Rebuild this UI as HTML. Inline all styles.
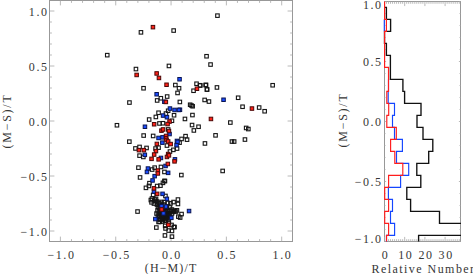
<!DOCTYPE html>
<html><head><meta charset="utf-8"><title>plot</title>
<style>
html,body{margin:0;padding:0;background:#fff;}
body{width:473px;height:274px;position:relative;overflow:hidden;font-family:"Liberation Serif",serif;}
.t{position:absolute;font-family:"Liberation Serif",serif;font-size:12px;line-height:1;color:#363636;white-space:nowrap;}
.r{transform-origin:50% 50%;}
</style></head><body>
<svg width="473" height="274" viewBox="0 0 473 274" style="position:absolute;left:0;top:0">
<rect width="473" height="274" fill="#fff"/>
<rect x="49.5" y="0.5" width="243.0" height="241.0" fill="none" stroke="#989898" stroke-width="1"/>
<path d="M60.40 241.5v-4.9M60.40 0.5v4.9M49.5 231.00h4.9M292.5 231.00h-4.9M71.47 241.5v-2.4M71.47 0.5v2.4M49.5 220.00h2.4M292.5 220.00h-2.4M82.53 241.5v-2.4M82.53 0.5v2.4M49.5 209.00h2.4M292.5 209.00h-2.4M93.60 241.5v-2.4M93.60 0.5v2.4M49.5 198.00h2.4M292.5 198.00h-2.4M104.66 241.5v-2.4M104.66 0.5v2.4M49.5 187.00h2.4M292.5 187.00h-2.4M115.73 241.5v-4.9M115.73 0.5v4.9M49.5 176.00h4.9M292.5 176.00h-4.9M126.79 241.5v-2.4M126.79 0.5v2.4M49.5 165.00h2.4M292.5 165.00h-2.4M137.86 241.5v-2.4M137.86 0.5v2.4M49.5 154.00h2.4M292.5 154.00h-2.4M148.92 241.5v-2.4M148.92 0.5v2.4M49.5 143.00h2.4M292.5 143.00h-2.4M159.99 241.5v-2.4M159.99 0.5v2.4M49.5 132.00h2.4M292.5 132.00h-2.4M171.05 241.5v-4.9M171.05 0.5v4.9M49.5 121.00h4.9M292.5 121.00h-4.9M182.12 241.5v-2.4M182.12 0.5v2.4M49.5 110.00h2.4M292.5 110.00h-2.4M193.18 241.5v-2.4M193.18 0.5v2.4M49.5 99.00h2.4M292.5 99.00h-2.4M204.25 241.5v-2.4M204.25 0.5v2.4M49.5 88.00h2.4M292.5 88.00h-2.4M215.31 241.5v-2.4M215.31 0.5v2.4M49.5 77.00h2.4M292.5 77.00h-2.4M226.38 241.5v-4.9M226.38 0.5v4.9M49.5 66.00h4.9M292.5 66.00h-4.9M237.44 241.5v-2.4M237.44 0.5v2.4M49.5 55.00h2.4M292.5 55.00h-2.4M248.50 241.5v-2.4M248.50 0.5v2.4M49.5 44.00h2.4M292.5 44.00h-2.4M259.57 241.5v-2.4M259.57 0.5v2.4M49.5 33.00h2.4M292.5 33.00h-2.4M270.63 241.5v-2.4M270.63 0.5v2.4M49.5 22.00h2.4M292.5 22.00h-2.4M281.70 241.5v-4.9M281.70 0.5v4.9M49.5 11.00h4.9M292.5 11.00h-4.9" stroke="#a8a8a8" stroke-width="0.8" fill="none"/>
<rect x="384.5" y="1.5" width="76.0" height="240.0" fill="none" stroke="#989898" stroke-width="1"/>
<path d="M384.50 241.5v-4.6M384.50 1.5v4.6M386.52 241.5v-2.3M386.52 1.5v2.3M388.54 241.5v-2.3M388.54 1.5v2.3M390.56 241.5v-2.3M390.56 1.5v2.3M392.58 241.5v-2.3M392.58 1.5v2.3M394.60 241.5v-2.3M394.60 1.5v2.3M396.62 241.5v-2.3M396.62 1.5v2.3M398.64 241.5v-2.3M398.64 1.5v2.3M400.66 241.5v-2.3M400.66 1.5v2.3M402.68 241.5v-2.3M402.68 1.5v2.3M404.70 241.5v-4.6M404.70 1.5v4.6M406.72 241.5v-2.3M406.72 1.5v2.3M408.74 241.5v-2.3M408.74 1.5v2.3M410.76 241.5v-2.3M410.76 1.5v2.3M412.78 241.5v-2.3M412.78 1.5v2.3M414.80 241.5v-2.3M414.80 1.5v2.3M416.82 241.5v-2.3M416.82 1.5v2.3M418.84 241.5v-2.3M418.84 1.5v2.3M420.86 241.5v-2.3M420.86 1.5v2.3M422.88 241.5v-2.3M422.88 1.5v2.3M424.90 241.5v-4.6M424.90 1.5v4.6M426.92 241.5v-2.3M426.92 1.5v2.3M428.94 241.5v-2.3M428.94 1.5v2.3M430.96 241.5v-2.3M430.96 1.5v2.3M432.98 241.5v-2.3M432.98 1.5v2.3M435.00 241.5v-2.3M435.00 1.5v2.3M437.02 241.5v-2.3M437.02 1.5v2.3M439.04 241.5v-2.3M439.04 1.5v2.3M441.06 241.5v-2.3M441.06 1.5v2.3M443.08 241.5v-2.3M443.08 1.5v2.3M445.10 241.5v-4.6M445.10 1.5v4.6M447.12 241.5v-2.3M447.12 1.5v2.3M449.14 241.5v-2.3M449.14 1.5v2.3M451.16 241.5v-2.3M451.16 1.5v2.3M453.18 241.5v-2.3M453.18 1.5v2.3M455.20 241.5v-2.3M455.20 1.5v2.3M457.22 241.5v-2.3M457.22 1.5v2.3M459.24 241.5v-2.3M459.24 1.5v2.3M384.5 241.50h1.6M460.5 241.50h-1.6M384.5 229.50h1.0M460.5 229.50h-1.0M384.5 217.50h1.0M460.5 217.50h-1.0M384.5 205.50h1.0M460.5 205.50h-1.0M384.5 193.50h1.0M460.5 193.50h-1.0M384.5 181.50h1.6M460.5 181.50h-1.6M384.5 169.50h1.0M460.5 169.50h-1.0M384.5 157.50h1.0M460.5 157.50h-1.0M384.5 145.50h1.0M460.5 145.50h-1.0M384.5 133.50h1.0M460.5 133.50h-1.0M384.5 121.50h1.6M460.5 121.50h-1.6M384.5 109.50h1.0M460.5 109.50h-1.0M384.5 97.50h1.0M460.5 97.50h-1.0M384.5 85.50h1.0M460.5 85.50h-1.0M384.5 73.50h1.0M460.5 73.50h-1.0M384.5 61.50h1.6M460.5 61.50h-1.6M384.5 49.50h1.0M460.5 49.50h-1.0M384.5 37.50h1.0M460.5 37.50h-1.0M384.5 25.50h1.0M460.5 25.50h-1.0M384.5 13.50h1.0M460.5 13.50h-1.0M384.5 1.50h1.6M460.5 1.50h-1.6" stroke="#a8a8a8" stroke-width="0.8" fill="none"/>
<defs><clipPath id="c2"><rect x="383" y="1" width="78" height="241"/></clipPath></defs>
<g clip-path="url(#c2)" fill="none" stroke-linejoin="miter">
<path d="M384.8 7.3H386.4V19.3H390.6V31.3H384.5V43.3H386.4V55.3H390.4V67.3H390.4V79.3H402.9V91.3H404.6V103.3H421.0V115.3H417.0V127.3H423.0V139.3H432.8V151.3H428.7V163.3H416.8V175.3H420.8V187.3H406.8V199.3H410.6V211.3H439.5V223.3H470.0V235.3H418.6V241.5" stroke="#111" stroke-width="1.35"/>
<path d="M384.3 19.3V31.3M388.5 79.3V91.3H388.2V103.3H394.5V115.3H392.5V127.3H394.5V139.3H402.4V151.3H396.5V163.3H408.7V175.3H400.6V187.3H388.4V199.3H392.5V211.3H390.5V223.3H394.6V235.3H386.5V241.5" stroke="#1446ff" stroke-width="1.15"/>
<path d="M384.6 1.5V7.3H384.6V19.3H386.4V31.3H384.6V43.3H384.6V55.3H384.6V67.3H388.5V79.3H388.5V91.3H386.8V103.3H388.7V115.3H386.8V127.3H396.3V139.3H390.6V151.3H394.8V163.3H402.8V175.3H388.6V187.3H384.7V199.3H388.6V211.3H384.7V223.3H388.6V235.3H386.5V241.5" stroke="#ff1c1c" stroke-width="1.15"/>
</g>
<rect x="139.2" y="30.6" width="3.5" height="3.5" fill="none" stroke="#151515" stroke-width="1.1"/>
<rect x="171.9" y="28.8" width="3.5" height="3.5" fill="none" stroke="#151515" stroke-width="1.1"/>
<rect x="215.7" y="13.9" width="3.5" height="3.5" fill="none" stroke="#151515" stroke-width="1.1"/>
<rect x="204.8" y="54.5" width="3.5" height="3.5" fill="none" stroke="#151515" stroke-width="1.1"/>
<rect x="105.5" y="53.4" width="3.5" height="3.5" fill="none" stroke="#151515" stroke-width="1.1"/>
<rect x="134.2" y="67.3" width="3.5" height="3.5" fill="none" stroke="#151515" stroke-width="1.1"/>
<rect x="167.2" y="64.2" width="3.5" height="3.5" fill="none" stroke="#151515" stroke-width="1.1"/>
<rect x="208.8" y="62.8" width="3.5" height="3.5" fill="none" stroke="#151515" stroke-width="1.1"/>
<rect x="198.4" y="83.5" width="3.5" height="3.5" fill="none" stroke="#151515" stroke-width="1.1"/>
<rect x="204.3" y="83.2" width="3.5" height="3.5" fill="none" stroke="#151515" stroke-width="1.1"/>
<rect x="205.3" y="87.7" width="3.5" height="3.5" fill="none" stroke="#151515" stroke-width="1.1"/>
<rect x="215.2" y="85.7" width="3.5" height="3.5" fill="none" stroke="#151515" stroke-width="1.1"/>
<rect x="270.9" y="83.5" width="3.5" height="3.5" fill="none" stroke="#151515" stroke-width="1.1"/>
<rect x="141.8" y="86.5" width="3.5" height="3.5" fill="none" stroke="#151515" stroke-width="1.1"/>
<rect x="159.1" y="96.5" width="3.5" height="3.5" fill="none" stroke="#151515" stroke-width="1.1"/>
<rect x="155.4" y="98.7" width="3.5" height="3.5" fill="none" stroke="#151515" stroke-width="1.1"/>
<rect x="165.4" y="94.8" width="3.5" height="3.5" fill="none" stroke="#151515" stroke-width="1.1"/>
<rect x="127.7" y="100.8" width="3.5" height="3.5" fill="none" stroke="#151515" stroke-width="1.1"/>
<rect x="173.6" y="83.3" width="3.5" height="3.5" fill="none" stroke="#151515" stroke-width="1.1"/>
<rect x="177.3" y="86.5" width="3.5" height="3.5" fill="none" stroke="#151515" stroke-width="1.1"/>
<rect x="175.8" y="91.2" width="3.5" height="3.5" fill="none" stroke="#151515" stroke-width="1.1"/>
<rect x="178.1" y="100.2" width="3.5" height="3.5" fill="none" stroke="#151515" stroke-width="1.1"/>
<rect x="194.8" y="82.0" width="3.5" height="3.5" fill="none" stroke="#151515" stroke-width="1.1"/>
<rect x="198.4" y="83.8" width="3.5" height="3.5" fill="none" stroke="#151515" stroke-width="1.1"/>
<rect x="191.8" y="89.0" width="3.5" height="3.5" fill="none" stroke="#151515" stroke-width="1.1"/>
<rect x="203.9" y="83.3" width="3.5" height="3.5" fill="none" stroke="#151515" stroke-width="1.1"/>
<rect x="205.2" y="87.8" width="3.5" height="3.5" fill="none" stroke="#151515" stroke-width="1.1"/>
<rect x="202.9" y="98.2" width="3.5" height="3.5" fill="none" stroke="#151515" stroke-width="1.1"/>
<rect x="207.2" y="99.8" width="3.5" height="3.5" fill="none" stroke="#151515" stroke-width="1.1"/>
<rect x="236.4" y="96.0" width="3.5" height="3.5" fill="none" stroke="#151515" stroke-width="1.1"/>
<rect x="240.8" y="105.0" width="3.5" height="3.5" fill="none" stroke="#151515" stroke-width="1.1"/>
<rect x="257.4" y="105.8" width="3.5" height="3.5" fill="none" stroke="#151515" stroke-width="1.1"/>
<rect x="262.9" y="109.5" width="3.5" height="3.5" fill="none" stroke="#151515" stroke-width="1.1"/>
<rect x="228.6" y="120.8" width="3.5" height="3.5" fill="none" stroke="#151515" stroke-width="1.1"/>
<rect x="244.4" y="126.2" width="3.5" height="3.5" fill="none" stroke="#151515" stroke-width="1.1"/>
<rect x="246.6" y="127.3" width="3.5" height="3.5" fill="none" stroke="#151515" stroke-width="1.1"/>
<rect x="213.8" y="133.6" width="3.5" height="3.5" fill="none" stroke="#151515" stroke-width="1.1"/>
<rect x="188.4" y="103.0" width="3.5" height="3.5" fill="none" stroke="#151515" stroke-width="1.1"/>
<rect x="189.8" y="103.8" width="3.5" height="3.5" fill="none" stroke="#151515" stroke-width="1.1"/>
<rect x="190.9" y="104.5" width="3.5" height="3.5" fill="none" stroke="#151515" stroke-width="1.1"/>
<rect x="190.7" y="113.3" width="3.5" height="3.5" fill="none" stroke="#151515" stroke-width="1.1"/>
<rect x="183.2" y="117.2" width="3.5" height="3.5" fill="none" stroke="#151515" stroke-width="1.1"/>
<rect x="190.3" y="123.3" width="3.5" height="3.5" fill="none" stroke="#151515" stroke-width="1.1"/>
<rect x="196.8" y="125.0" width="3.5" height="3.5" fill="none" stroke="#151515" stroke-width="1.1"/>
<rect x="192.1" y="128.7" width="3.5" height="3.5" fill="none" stroke="#151515" stroke-width="1.1"/>
<rect x="115.2" y="123.5" width="3.5" height="3.5" fill="none" stroke="#151515" stroke-width="1.1"/>
<rect x="147.4" y="117.8" width="3.5" height="3.5" fill="none" stroke="#151515" stroke-width="1.1"/>
<rect x="154.1" y="115.2" width="3.5" height="3.5" fill="none" stroke="#151515" stroke-width="1.1"/>
<rect x="156.8" y="111.0" width="3.5" height="3.5" fill="none" stroke="#151515" stroke-width="1.1"/>
<rect x="157.7" y="121.7" width="3.5" height="3.5" fill="none" stroke="#151515" stroke-width="1.1"/>
<rect x="166.4" y="109.0" width="3.5" height="3.5" fill="none" stroke="#151515" stroke-width="1.1"/>
<rect x="164.2" y="111.8" width="3.5" height="3.5" fill="none" stroke="#151515" stroke-width="1.1"/>
<rect x="172.3" y="113.5" width="3.5" height="3.5" fill="none" stroke="#151515" stroke-width="1.1"/>
<rect x="170.2" y="119.0" width="3.5" height="3.5" fill="none" stroke="#151515" stroke-width="1.1"/>
<rect x="161.2" y="121.5" width="3.5" height="3.5" fill="none" stroke="#151515" stroke-width="1.1"/>
<rect x="166.4" y="127.7" width="3.5" height="3.5" fill="none" stroke="#151515" stroke-width="1.1"/>
<rect x="151.4" y="134.2" width="3.5" height="3.5" fill="none" stroke="#151515" stroke-width="1.1"/>
<rect x="183.8" y="134.4" width="3.5" height="3.5" fill="none" stroke="#151515" stroke-width="1.1"/>
<rect x="179.8" y="137.2" width="3.5" height="3.5" fill="none" stroke="#151515" stroke-width="1.1"/>
<rect x="185.3" y="137.9" width="3.5" height="3.5" fill="none" stroke="#151515" stroke-width="1.1"/>
<rect x="165.2" y="143.8" width="3.5" height="3.5" fill="none" stroke="#151515" stroke-width="1.1"/>
<rect x="156.8" y="145.9" width="3.5" height="3.5" fill="none" stroke="#151515" stroke-width="1.1"/>
<rect x="153.8" y="146.8" width="3.5" height="3.5" fill="none" stroke="#151515" stroke-width="1.1"/>
<rect x="177.8" y="140.9" width="3.5" height="3.5" fill="none" stroke="#151515" stroke-width="1.1"/>
<rect x="175.3" y="146.8" width="3.5" height="3.5" fill="none" stroke="#151515" stroke-width="1.1"/>
<rect x="171.6" y="148.1" width="3.5" height="3.5" fill="none" stroke="#151515" stroke-width="1.1"/>
<rect x="168.2" y="149.8" width="3.5" height="3.5" fill="none" stroke="#151515" stroke-width="1.1"/>
<rect x="141.9" y="133.8" width="3.5" height="3.5" fill="none" stroke="#151515" stroke-width="1.1"/>
<rect x="127.6" y="139.9" width="3.5" height="3.5" fill="none" stroke="#151515" stroke-width="1.1"/>
<rect x="133.7" y="146.7" width="3.5" height="3.5" fill="none" stroke="#151515" stroke-width="1.1"/>
<rect x="137.8" y="145.2" width="3.5" height="3.5" fill="none" stroke="#151515" stroke-width="1.1"/>
<rect x="144.8" y="146.2" width="3.5" height="3.5" fill="none" stroke="#151515" stroke-width="1.1"/>
<rect x="137.8" y="153.9" width="3.5" height="3.5" fill="none" stroke="#151515" stroke-width="1.1"/>
<rect x="141.6" y="155.2" width="3.5" height="3.5" fill="none" stroke="#151515" stroke-width="1.1"/>
<rect x="136.7" y="165.9" width="3.5" height="3.5" fill="none" stroke="#151515" stroke-width="1.1"/>
<rect x="138.3" y="175.7" width="3.5" height="3.5" fill="none" stroke="#151515" stroke-width="1.1"/>
<rect x="150.4" y="167.8" width="3.5" height="3.5" fill="none" stroke="#151515" stroke-width="1.1"/>
<rect x="152.9" y="165.9" width="3.5" height="3.5" fill="none" stroke="#151515" stroke-width="1.1"/>
<rect x="159.2" y="165.2" width="3.5" height="3.5" fill="none" stroke="#151515" stroke-width="1.1"/>
<rect x="162.7" y="170.2" width="3.5" height="3.5" fill="none" stroke="#151515" stroke-width="1.1"/>
<rect x="179.6" y="173.3" width="3.5" height="3.5" fill="none" stroke="#151515" stroke-width="1.1"/>
<rect x="162.7" y="179.2" width="3.5" height="3.5" fill="none" stroke="#151515" stroke-width="1.1"/>
<rect x="147.7" y="181.4" width="3.5" height="3.5" fill="none" stroke="#151515" stroke-width="1.1"/>
<rect x="147.2" y="184.2" width="3.5" height="3.5" fill="none" stroke="#151515" stroke-width="1.1"/>
<rect x="144.2" y="186.1" width="3.5" height="3.5" fill="none" stroke="#151515" stroke-width="1.1"/>
<rect x="163.2" y="179.3" width="3.5" height="3.5" fill="none" stroke="#151515" stroke-width="1.1"/>
<rect x="161.2" y="181.1" width="3.5" height="3.5" fill="none" stroke="#151515" stroke-width="1.1"/>
<rect x="158.7" y="183.9" width="3.5" height="3.5" fill="none" stroke="#151515" stroke-width="1.1"/>
<rect x="155.4" y="184.3" width="3.5" height="3.5" fill="none" stroke="#151515" stroke-width="1.1"/>
<rect x="151.4" y="193.2" width="3.5" height="3.5" fill="none" stroke="#151515" stroke-width="1.1"/>
<rect x="163.7" y="194.2" width="3.5" height="3.5" fill="none" stroke="#151515" stroke-width="1.1"/>
<rect x="150.2" y="196.8" width="3.5" height="3.5" fill="none" stroke="#151515" stroke-width="1.1"/>
<rect x="154.3" y="197.1" width="3.5" height="3.5" fill="none" stroke="#151515" stroke-width="1.1"/>
<rect x="135.8" y="209.8" width="3.5" height="3.5" fill="none" stroke="#151515" stroke-width="1.1"/>
<rect x="149.1" y="198.3" width="3.5" height="3.5" fill="none" stroke="#151515" stroke-width="1.1"/>
<rect x="149.8" y="200.6" width="3.5" height="3.5" fill="none" stroke="#151515" stroke-width="1.1"/>
<rect x="153.6" y="199.1" width="3.5" height="3.5" fill="none" stroke="#151515" stroke-width="1.1"/>
<rect x="162.4" y="200.4" width="3.5" height="3.5" fill="none" stroke="#151515" stroke-width="1.1"/>
<rect x="166.2" y="201.2" width="3.5" height="3.5" fill="none" stroke="#151515" stroke-width="1.1"/>
<rect x="171.8" y="200.3" width="3.5" height="3.5" fill="none" stroke="#151515" stroke-width="1.1"/>
<rect x="168.7" y="201.6" width="3.5" height="3.5" fill="none" stroke="#151515" stroke-width="1.1"/>
<rect x="176.2" y="197.8" width="3.5" height="3.5" fill="none" stroke="#151515" stroke-width="1.1"/>
<rect x="176.2" y="202.2" width="3.5" height="3.5" fill="none" stroke="#151515" stroke-width="1.1"/>
<rect x="203.2" y="141.7" width="3.5" height="3.5" fill="none" stroke="#151515" stroke-width="1.1"/>
<rect x="230.2" y="139.8" width="3.5" height="3.5" fill="none" stroke="#151515" stroke-width="1.1"/>
<rect x="232.4" y="139.8" width="3.5" height="3.5" fill="none" stroke="#151515" stroke-width="1.1"/>
<rect x="243.2" y="137.8" width="3.5" height="3.5" fill="none" stroke="#151515" stroke-width="1.1"/>
<rect x="220.9" y="169.2" width="3.5" height="3.5" fill="none" stroke="#151515" stroke-width="1.1"/>
<rect x="175.2" y="208.6" width="3.5" height="3.5" fill="none" stroke="#151515" stroke-width="1.1"/>
<rect x="172.1" y="209.6" width="3.5" height="3.5" fill="none" stroke="#151515" stroke-width="1.1"/>
<rect x="179.8" y="212.3" width="3.5" height="3.5" fill="none" stroke="#151515" stroke-width="1.1"/>
<rect x="176.6" y="214.9" width="3.5" height="3.5" fill="none" stroke="#151515" stroke-width="1.1"/>
<rect x="178.4" y="215.8" width="3.5" height="3.5" fill="none" stroke="#151515" stroke-width="1.1"/>
<rect x="156.8" y="220.2" width="3.5" height="3.5" fill="none" stroke="#151515" stroke-width="1.1"/>
<rect x="160.6" y="219.8" width="3.5" height="3.5" fill="none" stroke="#151515" stroke-width="1.1"/>
<rect x="154.6" y="225.8" width="3.5" height="3.5" fill="none" stroke="#151515" stroke-width="1.1"/>
<rect x="172.1" y="225.2" width="3.5" height="3.5" fill="none" stroke="#151515" stroke-width="1.1"/>
<rect x="169.8" y="223.2" width="3.5" height="3.5" fill="none" stroke="#151515" stroke-width="1.1"/>
<rect x="163.4" y="224.1" width="3.5" height="3.5" fill="none" stroke="#151515" stroke-width="1.1"/>
<rect x="163.8" y="226.7" width="3.5" height="3.5" fill="none" stroke="#151515" stroke-width="1.1"/>
<rect x="172.8" y="225.3" width="3.5" height="3.5" fill="none" stroke="#151515" stroke-width="1.1"/>
<rect x="166.9" y="228.8" width="3.5" height="3.5" fill="none" stroke="#151515" stroke-width="1.1"/>
<rect x="170.2" y="229.2" width="3.5" height="3.5" fill="none" stroke="#151515" stroke-width="1.1"/>
<rect x="163.2" y="233.7" width="3.5" height="3.5" fill="none" stroke="#151515" stroke-width="1.1"/>
<rect x="170.2" y="234.9" width="3.5" height="3.5" fill="none" stroke="#151515" stroke-width="1.1"/>
<rect x="153.2" y="197.8" width="3.5" height="3.5" fill="none" stroke="#151515" stroke-width="1.1"/>
<rect x="155.2" y="199.8" width="3.5" height="3.5" fill="none" stroke="#151515" stroke-width="1.1"/>
<rect x="156.8" y="201.2" width="3.5" height="3.5" fill="none" stroke="#151515" stroke-width="1.1"/>
<rect x="152.2" y="201.8" width="3.5" height="3.5" fill="none" stroke="#151515" stroke-width="1.1"/>
<rect x="170.2" y="207.8" width="3.5" height="3.5" fill="none" stroke="#151515" stroke-width="1.1"/>
<rect x="172.8" y="208.8" width="3.5" height="3.5" fill="none" stroke="#151515" stroke-width="1.1"/>
<rect x="174.2" y="209.8" width="3.5" height="3.5" fill="none" stroke="#151515" stroke-width="1.1"/>
<rect x="171.2" y="210.2" width="3.5" height="3.5" fill="none" stroke="#151515" stroke-width="1.1"/>
<rect x="158.2" y="211.7" width="3.5" height="3.5" fill="none" stroke="#151515" stroke-width="1.1"/>
<rect x="160.4" y="211.2" width="3.5" height="3.5" fill="none" stroke="#151515" stroke-width="1.1"/>
<rect x="165.4" y="211.4" width="3.5" height="3.5" fill="none" stroke="#151515" stroke-width="1.1"/>
<rect x="163.2" y="212.7" width="3.5" height="3.5" fill="none" stroke="#151515" stroke-width="1.1"/>
<rect x="165.9" y="213.4" width="3.5" height="3.5" fill="none" stroke="#151515" stroke-width="1.1"/>
<rect x="166.9" y="212.6" width="3.5" height="3.5" fill="none" stroke="#151515" stroke-width="1.1"/>
<rect x="157.4" y="215.1" width="3.5" height="3.5" fill="none" stroke="#151515" stroke-width="1.1"/>
<rect x="165.2" y="215.9" width="3.5" height="3.5" fill="none" stroke="#151515" stroke-width="1.1"/>
<rect x="167.7" y="215.4" width="3.5" height="3.5" fill="none" stroke="#151515" stroke-width="1.1"/>
<rect x="157.9" y="217.3" width="3.5" height="3.5" fill="none" stroke="#151515" stroke-width="1.1"/>
<rect x="161.2" y="218.2" width="3.5" height="3.5" fill="none" stroke="#151515" stroke-width="1.1"/>
<rect x="162.6" y="217.2" width="3.5" height="3.5" fill="none" stroke="#151515" stroke-width="1.1"/>
<rect x="157.9" y="220.1" width="3.5" height="3.5" fill="none" stroke="#151515" stroke-width="1.1"/>
<rect x="163.3" y="218.8" width="3.5" height="3.5" fill="none" stroke="#151515" stroke-width="1.1"/>
<rect x="159.2" y="204.8" width="3.5" height="3.5" fill="none" stroke="#151515" stroke-width="1.1"/>
<rect x="157.2" y="206.2" width="3.5" height="3.5" fill="none" stroke="#151515" stroke-width="1.1"/>
<rect x="164.7" y="205.9" width="3.5" height="3.5" fill="none" stroke="#151515" stroke-width="1.1"/>
<rect x="163.8" y="208.8" width="3.5" height="3.5" fill="none" stroke="#151515" stroke-width="1.1"/>
<rect x="155.2" y="202.8" width="3.5" height="3.5" fill="none" stroke="#151515" stroke-width="1.1"/>
<rect x="157.8" y="201.8" width="3.5" height="3.5" fill="none" stroke="#151515" stroke-width="1.1"/>
<rect x="159.8" y="200.2" width="3.5" height="3.5" fill="none" stroke="#151515" stroke-width="1.1"/>
<rect x="156.2" y="205.2" width="3.5" height="3.5" fill="none" stroke="#151515" stroke-width="1.1"/>
<rect x="158.2" y="207.2" width="3.5" height="3.5" fill="none" stroke="#151515" stroke-width="1.1"/>
<rect x="155.8" y="208.8" width="3.5" height="3.5" fill="none" stroke="#151515" stroke-width="1.1"/>
<rect x="157.2" y="210.8" width="3.5" height="3.5" fill="none" stroke="#151515" stroke-width="1.1"/>
<rect x="159.2" y="212.8" width="3.5" height="3.5" fill="none" stroke="#151515" stroke-width="1.1"/>
<rect x="161.2" y="214.2" width="3.5" height="3.5" fill="none" stroke="#151515" stroke-width="1.1"/>
<rect x="163.2" y="215.8" width="3.5" height="3.5" fill="none" stroke="#151515" stroke-width="1.1"/>
<rect x="158.2" y="215.2" width="3.5" height="3.5" fill="none" stroke="#151515" stroke-width="1.1"/>
<rect x="156.2" y="213.8" width="3.5" height="3.5" fill="none" stroke="#151515" stroke-width="1.1"/>
<rect x="160.2" y="217.2" width="3.5" height="3.5" fill="none" stroke="#151515" stroke-width="1.1"/>
<rect x="164.2" y="218.8" width="3.5" height="3.5" fill="none" stroke="#151515" stroke-width="1.1"/>
<rect x="166.8" y="217.8" width="3.5" height="3.5" fill="none" stroke="#151515" stroke-width="1.1"/>
<rect x="162.2" y="209.2" width="3.5" height="3.5" fill="none" stroke="#151515" stroke-width="1.1"/>
<rect x="164.8" y="210.8" width="3.5" height="3.5" fill="none" stroke="#151515" stroke-width="1.1"/>
<rect x="166.2" y="208.2" width="3.5" height="3.5" fill="none" stroke="#151515" stroke-width="1.1"/>
<rect x="167.8" y="212.2" width="3.5" height="3.5" fill="none" stroke="#151515" stroke-width="1.1"/>
<rect x="165.2" y="214.2" width="3.5" height="3.5" fill="none" stroke="#151515" stroke-width="1.1"/>
<rect x="168.2" y="205.8" width="3.5" height="3.5" fill="none" stroke="#151515" stroke-width="1.1"/>
<rect x="161.8" y="202.8" width="3.5" height="3.5" fill="none" stroke="#151515" stroke-width="1.1"/>
<rect x="159.1" y="204.2" width="3.5" height="3.5" fill="none" stroke="#151515" stroke-width="1.1"/>
<rect x="154.8" y="211.8" width="3.5" height="3.5" fill="none" stroke="#151515" stroke-width="1.1"/>
<rect x="158.1" y="217.8" width="3.5" height="3.5" fill="none" stroke="#151515" stroke-width="1.1"/>
<rect x="162.1" y="206.4" width="3.5" height="3.5" fill="none" stroke="#151515" stroke-width="1.1"/>
<rect x="164.4" y="208.1" width="3.5" height="3.5" fill="none" stroke="#151515" stroke-width="1.1"/>
<rect x="167.1" y="220.8" width="3.5" height="3.5" fill="none" stroke="#151515" stroke-width="1.1"/>
<rect x="159.8" y="210.1" width="3.5" height="3.5" fill="none" stroke="#151515" stroke-width="1.1"/>
<rect x="163.1" y="212.8" width="3.5" height="3.5" fill="none" stroke="#151515" stroke-width="1.1"/>
<rect x="169.1" y="209.2" width="3.5" height="3.5" fill="none" stroke="#151515" stroke-width="1.1"/>
<rect x="170.2" y="211.8" width="3.5" height="3.5" fill="none" stroke="#151515" stroke-width="1.1"/>
<rect x="154.9" y="92.5" width="3.5" height="3.5" fill="#1a4cff" stroke="#0a1450" stroke-width="1.0"/>
<rect x="162.6" y="100.0" width="3.5" height="3.5" fill="#1a4cff" stroke="#0a1450" stroke-width="1.0"/>
<rect x="177.8" y="77.5" width="3.5" height="3.5" fill="#1a4cff" stroke="#0a1450" stroke-width="1.0"/>
<rect x="221.8" y="98.0" width="3.5" height="3.5" fill="#1a4cff" stroke="#0a1450" stroke-width="1.0"/>
<rect x="178.2" y="108.0" width="3.5" height="3.5" fill="#1a4cff" stroke="#0a1450" stroke-width="1.0"/>
<rect x="143.2" y="125.0" width="3.5" height="3.5" fill="#1a4cff" stroke="#0a1450" stroke-width="1.0"/>
<rect x="168.2" y="106.8" width="3.5" height="3.5" fill="#1a4cff" stroke="#0a1450" stroke-width="1.0"/>
<rect x="172.8" y="108.2" width="3.5" height="3.5" fill="#1a4cff" stroke="#0a1450" stroke-width="1.0"/>
<rect x="177.2" y="108.2" width="3.5" height="3.5" fill="#1a4cff" stroke="#0a1450" stroke-width="1.0"/>
<rect x="161.3" y="113.8" width="3.5" height="3.5" fill="#1a4cff" stroke="#0a1450" stroke-width="1.0"/>
<rect x="165.2" y="115.5" width="3.5" height="3.5" fill="#1a4cff" stroke="#0a1450" stroke-width="1.0"/>
<rect x="167.8" y="132.3" width="3.5" height="3.5" fill="#1a4cff" stroke="#0a1450" stroke-width="1.0"/>
<rect x="156.8" y="136.2" width="3.5" height="3.5" fill="#1a4cff" stroke="#0a1450" stroke-width="1.0"/>
<rect x="160.8" y="135.6" width="3.5" height="3.5" fill="#1a4cff" stroke="#0a1450" stroke-width="1.0"/>
<rect x="175.2" y="139.2" width="3.5" height="3.5" fill="#1a4cff" stroke="#0a1450" stroke-width="1.0"/>
<rect x="160.6" y="140.9" width="3.5" height="3.5" fill="#1a4cff" stroke="#0a1450" stroke-width="1.0"/>
<rect x="175.8" y="140.1" width="3.5" height="3.5" fill="#1a4cff" stroke="#0a1450" stroke-width="1.0"/>
<rect x="174.8" y="143.4" width="3.5" height="3.5" fill="#1a4cff" stroke="#0a1450" stroke-width="1.0"/>
<rect x="159.2" y="156.2" width="3.5" height="3.5" fill="#1a4cff" stroke="#0a1450" stroke-width="1.0"/>
<rect x="143.1" y="153.1" width="3.5" height="3.5" fill="#1a4cff" stroke="#0a1450" stroke-width="1.0"/>
<rect x="146.2" y="166.8" width="3.5" height="3.5" fill="#1a4cff" stroke="#0a1450" stroke-width="1.0"/>
<rect x="145.2" y="170.2" width="3.5" height="3.5" fill="#1a4cff" stroke="#0a1450" stroke-width="1.0"/>
<rect x="152.9" y="174.4" width="3.5" height="3.5" fill="#1a4cff" stroke="#0a1450" stroke-width="1.0"/>
<rect x="150.8" y="178.7" width="3.5" height="3.5" fill="#1a4cff" stroke="#0a1450" stroke-width="1.0"/>
<rect x="173.2" y="157.6" width="3.5" height="3.5" fill="#1a4cff" stroke="#0a1450" stroke-width="1.0"/>
<rect x="163.8" y="164.2" width="3.5" height="3.5" fill="#1a4cff" stroke="#0a1450" stroke-width="1.0"/>
<rect x="166.4" y="171.1" width="3.5" height="3.5" fill="#1a4cff" stroke="#0a1450" stroke-width="1.0"/>
<rect x="152.2" y="189.8" width="3.5" height="3.5" fill="#1a4cff" stroke="#0a1450" stroke-width="1.0"/>
<rect x="160.8" y="192.1" width="3.5" height="3.5" fill="#1a4cff" stroke="#0a1450" stroke-width="1.0"/>
<rect x="165.1" y="197.1" width="3.5" height="3.5" fill="#1a4cff" stroke="#0a1450" stroke-width="1.0"/>
<rect x="159.8" y="204.4" width="3.5" height="3.5" fill="#1a4cff" stroke="#0a1450" stroke-width="1.0"/>
<rect x="164.2" y="204.8" width="3.5" height="3.5" fill="#1a4cff" stroke="#0a1450" stroke-width="1.0"/>
<rect x="161.7" y="211.6" width="3.5" height="3.5" fill="#1a4cff" stroke="#0a1450" stroke-width="1.0"/>
<rect x="169.6" y="216.1" width="3.5" height="3.5" fill="#1a4cff" stroke="#0a1450" stroke-width="1.0"/>
<rect x="187.3" y="209.3" width="3.5" height="3.5" fill="#1a4cff" stroke="#0a1450" stroke-width="1.0"/>
<rect x="153.6" y="217.3" width="3.5" height="3.5" fill="#1a4cff" stroke="#0a1450" stroke-width="1.0"/>
<rect x="151.2" y="25.4" width="3.5" height="3.5" fill="#ff2218" stroke="#4a0808" stroke-width="1.0"/>
<rect x="134.9" y="73.2" width="3.5" height="3.5" fill="#ff2218" stroke="#4a0808" stroke-width="1.0"/>
<rect x="154.9" y="71.7" width="3.5" height="3.5" fill="#ff2218" stroke="#4a0808" stroke-width="1.0"/>
<rect x="157.2" y="76.2" width="3.5" height="3.5" fill="#ff2218" stroke="#4a0808" stroke-width="1.0"/>
<rect x="164.8" y="83.0" width="3.5" height="3.5" fill="#ff2218" stroke="#4a0808" stroke-width="1.0"/>
<rect x="164.1" y="100.2" width="3.5" height="3.5" fill="#ff2218" stroke="#4a0808" stroke-width="1.0"/>
<rect x="195.2" y="87.0" width="3.5" height="3.5" fill="#ff2218" stroke="#4a0808" stroke-width="1.0"/>
<rect x="250.2" y="106.8" width="3.5" height="3.5" fill="#ff2218" stroke="#4a0808" stroke-width="1.0"/>
<rect x="209.2" y="117.2" width="3.5" height="3.5" fill="#ff2218" stroke="#4a0808" stroke-width="1.0"/>
<rect x="152.4" y="122.5" width="3.5" height="3.5" fill="#ff2218" stroke="#4a0808" stroke-width="1.0"/>
<rect x="167.8" y="119.8" width="3.5" height="3.5" fill="#ff2218" stroke="#4a0808" stroke-width="1.0"/>
<rect x="165.8" y="122.3" width="3.5" height="3.5" fill="#ff2218" stroke="#4a0808" stroke-width="1.0"/>
<rect x="159.7" y="128.9" width="3.5" height="3.5" fill="#ff2218" stroke="#4a0808" stroke-width="1.0"/>
<rect x="161.3" y="127.7" width="3.5" height="3.5" fill="#ff2218" stroke="#4a0808" stroke-width="1.0"/>
<rect x="167.2" y="129.3" width="3.5" height="3.5" fill="#ff2218" stroke="#4a0808" stroke-width="1.0"/>
<rect x="164.3" y="134.2" width="3.5" height="3.5" fill="#ff2218" stroke="#4a0808" stroke-width="1.0"/>
<rect x="164.3" y="136.6" width="3.5" height="3.5" fill="#ff2218" stroke="#4a0808" stroke-width="1.0"/>
<rect x="164.8" y="138.3" width="3.5" height="3.5" fill="#ff2218" stroke="#4a0808" stroke-width="1.0"/>
<rect x="166.4" y="139.7" width="3.5" height="3.5" fill="#ff2218" stroke="#4a0808" stroke-width="1.0"/>
<rect x="168.9" y="142.3" width="3.5" height="3.5" fill="#ff2218" stroke="#4a0808" stroke-width="1.0"/>
<rect x="155.1" y="142.2" width="3.5" height="3.5" fill="#ff2218" stroke="#4a0808" stroke-width="1.0"/>
<rect x="154.2" y="149.3" width="3.5" height="3.5" fill="#ff2218" stroke="#4a0808" stroke-width="1.0"/>
<rect x="152.4" y="152.8" width="3.5" height="3.5" fill="#ff2218" stroke="#4a0808" stroke-width="1.0"/>
<rect x="149.8" y="157.1" width="3.5" height="3.5" fill="#ff2218" stroke="#4a0808" stroke-width="1.0"/>
<rect x="156.9" y="157.6" width="3.5" height="3.5" fill="#ff2218" stroke="#4a0808" stroke-width="1.0"/>
<rect x="166.4" y="152.3" width="3.5" height="3.5" fill="#ff2218" stroke="#4a0808" stroke-width="1.0"/>
<rect x="165.2" y="155.2" width="3.5" height="3.5" fill="#ff2218" stroke="#4a0808" stroke-width="1.0"/>
<rect x="167.2" y="153.6" width="3.5" height="3.5" fill="#ff2218" stroke="#4a0808" stroke-width="1.0"/>
<rect x="137.2" y="148.4" width="3.5" height="3.5" fill="#ff2218" stroke="#4a0808" stroke-width="1.0"/>
<rect x="142.1" y="148.4" width="3.5" height="3.5" fill="#ff2218" stroke="#4a0808" stroke-width="1.0"/>
<rect x="156.1" y="168.8" width="3.5" height="3.5" fill="#ff2218" stroke="#4a0808" stroke-width="1.0"/>
<rect x="156.1" y="171.7" width="3.5" height="3.5" fill="#ff2218" stroke="#4a0808" stroke-width="1.0"/>
<rect x="172.8" y="159.6" width="3.5" height="3.5" fill="#ff2218" stroke="#4a0808" stroke-width="1.0"/>
<rect x="166.1" y="162.2" width="3.5" height="3.5" fill="#ff2218" stroke="#4a0808" stroke-width="1.0"/>
<rect x="152.2" y="186.6" width="3.5" height="3.5" fill="#ff2218" stroke="#4a0808" stroke-width="1.0"/>
<rect x="155.4" y="192.1" width="3.5" height="3.5" fill="#ff2218" stroke="#4a0808" stroke-width="1.0"/>
<rect x="159.9" y="207.7" width="3.5" height="3.5" fill="#ff2218" stroke="#4a0808" stroke-width="1.0"/>
<rect x="166.6" y="223.1" width="3.5" height="3.5" fill="#ff2218" stroke="#4a0808" stroke-width="1.0"/>
</svg>
<div class="t" style="top:5.8px;right:424.4px;text-align:right;letter-spacing:1.6px;font-size:12px">1.0</div>
<div class="t" style="top:60.8px;right:424.4px;text-align:right;letter-spacing:1.6px;font-size:12px">0.5</div>
<div class="t" style="top:115.8px;right:424.4px;text-align:right;letter-spacing:1.6px;font-size:12px">0.0</div>
<div class="t" style="top:170.8px;right:424.4px;text-align:right;letter-spacing:1.6px;font-size:12px">−0.5</div>
<div class="t" style="top:225.8px;right:424.4px;text-align:right;letter-spacing:1.6px;font-size:12px">−1.0</div>
<div class="t" style="top:248.9px;left:-38.5px;width:200px;text-align:center;letter-spacing:1.6px;font-size:12px">−1.0</div>
<div class="t" style="top:248.9px;left:16.8px;width:200px;text-align:center;letter-spacing:1.6px;font-size:12px">−0.5</div>
<div class="t" style="top:248.9px;left:71.9px;width:200px;text-align:center;letter-spacing:1.6px;font-size:12px">0.0</div>
<div class="t" style="top:248.9px;left:127.2px;width:200px;text-align:center;letter-spacing:1.6px;font-size:12px">0.5</div>
<div class="t" style="top:248.9px;left:182.5px;width:200px;text-align:center;letter-spacing:1.6px;font-size:12px">1.0</div>
<div class="t" style="top:262.1px;left:71.1px;width:200px;text-align:center;letter-spacing:1.1px;font-size:12px">(H−M)/T</div>
<div class="t" style="top:-0.6px;right:90.6px;text-align:right;letter-spacing:1.5px;font-size:12px">1.0</div>
<div class="t" style="top:56.0px;right:90.6px;text-align:right;letter-spacing:1.5px;font-size:12px">0.5</div>
<div class="t" style="top:116.2px;right:90.6px;text-align:right;letter-spacing:1.5px;font-size:12px">0.0</div>
<div class="t" style="top:176.2px;right:90.6px;text-align:right;letter-spacing:1.5px;font-size:12px">−0.5</div>
<div class="t" style="top:232.8px;right:90.6px;text-align:right;letter-spacing:1.5px;font-size:12px">−1.0</div>
<div class="t" style="top:248.8px;left:285.6px;width:200px;text-align:center;letter-spacing:1.6px;font-size:12px">0</div>
<div class="t" style="top:248.8px;left:305.8px;width:200px;text-align:center;letter-spacing:1.6px;font-size:12px">10</div>
<div class="t" style="top:248.8px;left:326.0px;width:200px;text-align:center;letter-spacing:1.6px;font-size:12px">20</div>
<div class="t" style="top:248.8px;left:346.2px;width:200px;text-align:center;letter-spacing:1.6px;font-size:12px">30</div>
<div class="t" style="top:262.5px;left:371.5px;text-align:left;letter-spacing:1.45px;font-size:12px">Relative Number</div>
<div class="t r" style="left:-53.0px;top:113.2px;width:120px;height:16px;line-height:16px;text-align:center;letter-spacing:1.75px;transform:rotate(-90deg)">(M−S)/T</div>
<div class="t r" style="left:283.2px;top:112.2px;width:120px;height:16px;line-height:16px;text-align:center;letter-spacing:1.75px;transform:rotate(-90deg)">(M−S)/T</div>
</body></html>
